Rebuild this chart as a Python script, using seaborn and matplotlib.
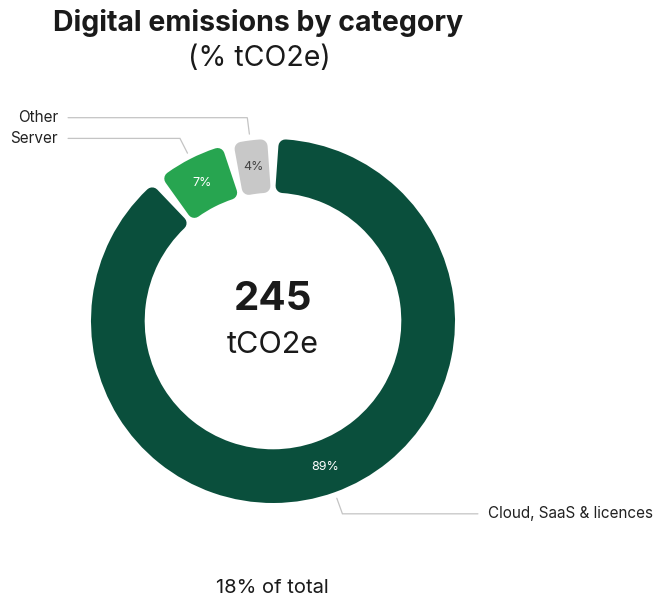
import numpy as np
import matplotlib
matplotlib.use("Agg")
import matplotlib.pyplot as plt
import seaborn as sns

# Data
categories = ["Cloud, SaaS & licences", "Server", "Other"]
shares = [89, 7, 4]          # % of digital tCO2e
total_tco2e = 245
share_of_total = 18
colors = ["#0a4f3c", "#27a550", "#c8c8c8"]
pct_colors = ["white", "white", "#444444"]

sns.set_theme(style="white")
plt.rcParams["font.family"] = ["Inter", "DejaVu Sans"]

W, H = 660, 598
fig = plt.figure(figsize=(W / 100, H / 100), dpi=100)
fig.patch.set_facecolor("white")

R_PX = 182.0
cx, cy = 273.0, 321.0
ax = fig.add_axes([(cx - R_PX) / W, (H - cy - R_PX) / H, 2 * R_PX / W, 2 * R_PX / H])

ring = 0.295
wedges, _, autotexts = ax.pie(
    shares, colors=colors, startangle=90, counterclock=False,
    radius=1.0, wedgeprops=dict(width=ring, linewidth=0),
    autopct="%d%%", pctdistance=1 - ring / 2,
    textprops=dict(fontsize=9),
)
for t, c in zip(autotexts, pct_colors):
    t.set_color(c)
ax.set_xlim(-1, 1)
ax.set_ylim(-1, 1)
ax.set_aspect("equal")
ax.axis("off")

# Rounded corners and gaps: shrink each wedge, then stroke it in its own colour
corner = 7.0 / R_PX           # corner radius in axes units
gap = 8.0 / R_PX
mid_r = 1 - ring / 2
dth = np.degrees((gap / 2 + corner) / mid_r)
for w in wedges:
    t1, t2 = w.theta1, w.theta2
    w.set_theta1(t1 + dth)
    w.set_theta2(t2 - dth)
    w.set_radius(1 - corner)
    w.set_width(ring - 2 * corner)
    w.set_edgecolor(w.get_facecolor())
    w.set_linewidth(2 * corner * R_PX * 72 / 100)
    w.set_joinstyle("round")

# Leader lines and category labels
line_c = "#c4c4c4"
for w, name in zip(wedges, categories):
    t1, t2 = w.theta1 - dth, w.theta2 + dth
    ang = np.radians((t1 + t2) / 2)
    x0, y0 = 1.035 * np.cos(ang), 1.035 * np.sin(ang)
    x1, y1 = 1.126 * np.cos(ang), 1.126 * np.sin(ang)
    side = 1 if np.cos(ang) > 0 else -1
    x2 = side * 1.126
    ax.plot([x0, x1, x2], [y0, y1, y1], color=line_c, lw=0.9,
            clip_on=False, solid_joinstyle="miter")
    ax.text(x2 + side * 0.055, y1, name, ha="left" if side > 0 else "right",
            va="center", fontsize=11, color="#222222", clip_on=False)

# Centre figure
ax.text(0, (cy - 299) / R_PX, f"{total_tco2e}", ha="center", va="center",
        fontsize=29, fontweight="bold", color="#1a1a1a")
ax.text(0, (cy - 345) / R_PX, "tCO2e", ha="center", va="center",
        fontsize=22, color="#1a1a1a")

# Titles and footer
fig.text(258 / W, 1 - 23 / H, "Digital emissions by category", ha="center",
         va="center", fontsize=20.5, fontweight="bold", color="#1a1a1a")
fig.text(259 / W, 1 - 58 / H, "(% tCO2e)", ha="center", va="center",
         fontsize=20.5, color="#1a1a1a")
fig.text(272 / W, 1 - 588 / H, f"{share_of_total}% of total", ha="center",
         va="center", fontsize=14.5, color="#1a1a1a")

fig.savefig("out.png", dpi=100, facecolor="white")
